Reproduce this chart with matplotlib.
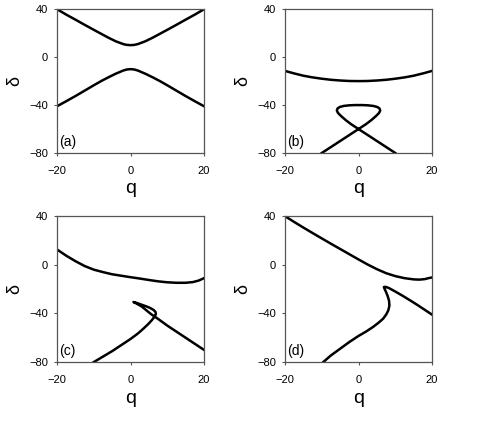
import numpy as np
import matplotlib
matplotlib.use('Agg')
from matplotlib import pyplot as plt

plt.rcParams['font.family'] = ['Liberation Sans', 'DejaVu Sans']

# (a) dos ramas
qa = [-20, -17.5, -15, -12.5, -10, -8, -6, -4, -2, -1, 0, 1, 2, 4, 6, 8, 10, 12.5, 15, 17.5, 20]
da_up = [40, 35.5, 31.3, 27, 22.8, 19.5, 16.2, 13.2, 10.9, 10.2, 10, 10.2, 10.9, 13.2, 16.2, 19.5, 22.8, 27, 31.3, 35.5, 40]
da_lo = [-41, -36.8, -32.5, -28, -23.5, -20, -16.8, -13.8, -11.2, -10.3, -10, -10.3, -11.2, -13.8, -16.8, -20, -23.5, -28, -32.5, -36.8, -41]

# (b)
qb_up = [-20, -17.5, -15, -12.5, -10, -7.5, -5, -2.5, 0, 2.5, 5, 7.5, 10, 12.5, 15, 17.5, 20]
db_up = [-11.5, -13.6, -15.5, -16.9, -18, -18.9, -19.5, -19.9, -20, -19.9, -19.5, -18.9, -18, -16.9, -15.5, -13.6, -11.5]
qb_lo = [-10, -7.5, -5, -2.5, 0, 2, 3.5, 4.8, 5.6, 5.9, 5.7, 5.1, 4, 2.5, 1, 0, -1, -2.5, -4, -5.1, -5.7, -5.9, -5.6, -4.8, -3.5, -2, 0, 2.5, 5, 7.5, 10]
db_lo = [-80, -75, -70, -65, -60, -56, -52.5, -49, -46.5, -44.5, -42.8, -41.6, -40.7, -40.2, -40, -40, -40, -40.2, -40.7, -41.6, -42.8, -44.5, -46.5, -49, -52.5, -56, -60, -65, -70, -75, -80]

# (c)
qc_up = [-20, -17.5, -15, -12.5, -10, -7.5, -5, -2.5, 0, 2.5, 5, 7.5, 10, 12.5, 15, 17, 18.5, 20]
dc_up = [12.6, 7.5, 3, -1, -4, -6, -7.8, -9, -10.2, -11.3, -12.5, -13.6, -14.4, -14.8, -14.8, -14.2, -13, -11]
qc_lo = [-10, -7.5, -5, -2.5, 0, 2, 3.5, 4.8, 5.8, 6.5, 6.9, 6.8, 6.3, 5.4, 4.3, 3, 1.8, 0.9, 0.8, 1.6, 3, 5.6, 7.5, 10, 12.5, 15, 17.5, 20]
dc_lo = [-80, -75.5, -71, -66, -61, -56.5, -52.5, -48.8, -45.5, -42.8, -40.5, -38.8, -37.2, -35.6, -34.2, -32.8, -31.5, -30.7, -30.6, -31.8, -34.2, -40.6, -44.5, -50, -55, -60, -65, -70]

# (d)
qd_up = [-20, -17.5, -15, -12.5, -10, -7.5, -5, -2.5, 0, 2.5, 5, 7.5, 10, 12.5, 15, 16.5, 18, 19, 20]
dd_up = [40, 35.2, 30.6, 26.1, 21.7, 17.3, 13, 8.7, 4.4, 0.2, -3.6, -6.9, -9.3, -11, -12, -12.2, -11.8, -11, -10.4]
qd_lo = [-9.6, -7.5, -5, -2.5, 0, 2, 4, 5.5, 6.7, 7.5, 8.1, 8.4, 8.3, 7.9, 7.4, 7, 6.9, 7.3, 8.2, 10, 12, 14, 16, 18, 20]
dd_lo = [-80, -74.5, -69, -63.5, -58.5, -55, -51, -47.5, -44.3, -41, -37.5, -33.5, -29.5, -25.5, -21.8, -19.2, -18.3, -18.1, -19, -22, -25.5, -29.2, -33, -37, -41]

fig = plt.figure(figsize=(4.79, 4.28), dpi=100)

pos = [(0.119, 0.6425, 0.307, 0.336),
       (0.595, 0.6425, 0.307, 0.336),
       (0.119, 0.154, 0.307, 0.341),
       (0.595, 0.154, 0.307, 0.341)]
curvas = [[(qa, da_up), (qa, da_lo)],
          [(qb_up, db_up), (qb_lo, db_lo)],
          [(qc_up, dc_up), (qc_lo, dc_lo)],
          [(qd_up, dd_up), (qd_lo, dd_lo)]]
etiquetas = ['(a)', '(b)', '(c)', '(d)']

for p, cs, et in zip(pos, curvas, etiquetas):
    ax = fig.add_axes(p)
    for x, y in cs:
        ax.plot(x, y, color='black', lw=1.8, solid_joinstyle='round')
    ax.set_xlim(-20, 20)
    ax.set_ylim(-80, 40)
    ax.set_xticks([-20, 0, 20])
    ax.set_yticks([-80, -40, 0, 40])
    for s in ax.spines.values():
        s.set_color('#555555')
        s.set_linewidth(0.9)
    ax.tick_params(axis='both', direction='out', length=2.5, width=0.8,
                   color='#555555', labelsize=8)
    ax.tick_params(axis='x', pad=7)
    ax.tick_params(axis='y', pad=4)
    ax.text(0.5, -0.277, 'q', transform=ax.transAxes, ha='center',
            va='baseline', fontsize=14)
    ax.text(-0.29, 0.5, 'δ', transform=ax.transAxes, ha='center',
            va='center', rotation=90, fontsize=13)
    ax.text(0.015, 0.03, et, transform=ax.transAxes, ha='left',
            va='bottom', fontsize=10)

plt.savefig('out.png', dpi=100)
